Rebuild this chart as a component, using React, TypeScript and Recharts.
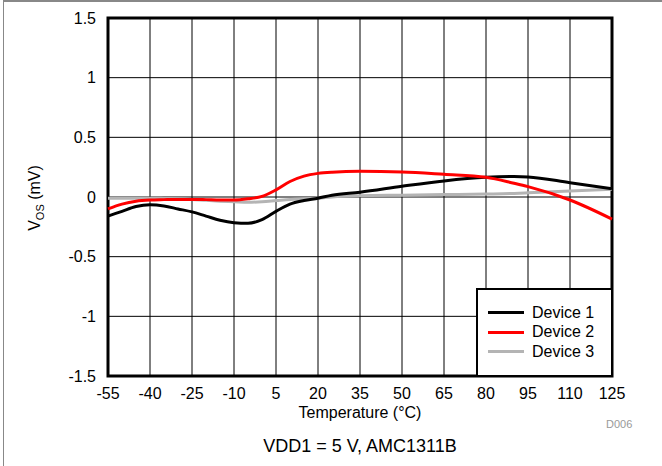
import {
  LineChart,
  Line,
  XAxis,
  YAxis,
  CartesianGrid,
  ReferenceArea,
} from "recharts";

const temps = [-55, -50, -45, -40, -35, -30, -25, -20, -15, -10, -5, 0, 5, 10, 15, 20, 25, 35, 50, 65, 80, 90, 95, 110, 125];
const device1 = [-0.16, -0.12, -0.08, -0.065, -0.075, -0.1, -0.125, -0.16, -0.195, -0.215, -0.22, -0.19, -0.12, -0.06, -0.03, -0.01, 0.015, 0.04, 0.09, 0.135, 0.165, 0.172, 0.168, 0.12, 0.07];
const device2 = [-0.1, -0.06, -0.035, -0.025, -0.022, -0.02, -0.02, -0.022, -0.025, -0.025, -0.015, 0.005, 0.06, 0.13, 0.175, 0.198, 0.208, 0.215, 0.21, 0.19, 0.165, 0.115, 0.087, -0.025, -0.185];
const device3 = [-0.01, -0.01, -0.01, -0.01, -0.012, -0.015, -0.02, -0.028, -0.035, -0.04, -0.045, -0.04, -0.03, -0.02, -0.015, -0.01, 0, 0.01, 0.015, 0.02, 0.025, 0.03, 0.035, 0.05, 0.065];

const xTicks = [-55, -40, -25, -10, 5, 20, 35, 50, 65, 80, 95, 110, 125];
const yTicks = [-1.5, -1, -0.5, 0, 0.5, 1, 1.5];

const seriesNames = ["Device 1", "Device 2", "Device 3"];
const seriesColors = ["#000000", "#ff0000", "#b4b4b4"];

const data = temps.map((t, i) => ({
  t,
  d1: device1[i],
  d2: device2[i],
  d3: device3[i],
}));

const font = "'Liberation Sans', Arial, sans-serif";

function LegendBox() {
  return (
    <div
      style={{
        position: "absolute",
        left: 476,
        top: 288,
        background: "#fff",
        border: "2px solid #000",
        boxSizing: "border-box",
        width: 137,
        height: 89,
        padding: "13px 0 0 10px",
        fontFamily: font,
        fontSize: 16,
      }}
    >
      {seriesNames.map((n, i) => (
        <div key={n} style={{ display: "flex", alignItems: "center", height: 19.5 }}>
          <div style={{ width: 36, height: 3, background: seriesColors[i], marginRight: 8 }} />
          <span>{n}</span>
        </div>
      ))}
    </div>
  );
}

function YLabel() {
  return (
    <text
      x={40}
      y={198}
      transform="rotate(-90 40 198)"
      textAnchor="middle"
      fontFamily={font}
      fontSize={16}
      fill="#000"
    >
      V<tspan fontSize={11} dy={4}>OS</tspan>
      <tspan dy={-4}> (mV)</tspan>
    </text>
  );
}

export default function App() {
  return (
    <div style={{ position: "absolute", left: 0, top: 0, width: 662, height: 466, background: "#fff", overflow: "hidden" }}>
      <div
        style={{
          position: "absolute",
          left: 3,
          top: 0,
          width: 680,
          height: 480,
          borderLeft: "1px solid #888",
          borderTop: "2px solid #888",
        }}
      />
      <LineChart
        width={662}
        height={466}
        data={data}
        margin={{ top: 18, right: 50, bottom: 60, left: 48 }}
        style={{ position: "absolute", left: 0, top: 0 }}
      >
        <CartesianGrid stroke="#000" strokeWidth={1} horizontalValues={yTicks} verticalValues={xTicks} />
        <XAxis
          dataKey="t"
          type="number"
          domain={[-55, 125]}
          ticks={xTicks}
          interval={0}
          height={30}
          axisLine={false}
          tickLine={false}
          tickMargin={6}
          tick={{ fill: "#000", fontSize: 16, fontFamily: font }}
        />
        <YAxis
          type="number"
          domain={[-1.5, 1.5]}
          ticks={yTicks}
          interval={0}
          width={60}
          axisLine={false}
          tickLine={false}
          tickMargin={6}
          tick={{ fill: "#000", fontSize: 16, fontFamily: font }}
          label={<YLabel />}
        />
        <Line type="monotone" dataKey="d3" stroke={seriesColors[2]} strokeWidth={3} dot={false} isAnimationActive={false} name={seriesNames[2]} />
        <Line type="monotone" dataKey="d1" stroke={seriesColors[0]} strokeWidth={3} dot={false} isAnimationActive={false} name={seriesNames[0]} />
        <Line type="monotone" dataKey="d2" stroke={seriesColors[1]} strokeWidth={3} dot={false} isAnimationActive={false} name={seriesNames[1]} />
        <ReferenceArea x1={-55} x2={125} y1={-1.5} y2={1.5} fill="none" stroke="#000" strokeWidth={3} />
      </LineChart>
      <LegendBox />
      <div style={{ position: "absolute", left: 0, width: 720, top: 404, textAlign: "center", fontFamily: font, fontSize: 16 }}>
        Temperature (°C)
      </div>
      <div style={{ position: "absolute", left: 606, top: 418, fontFamily: font, fontSize: 11, color: "#999" }}>D006</div>
      <div style={{ position: "absolute", left: 0, width: 720, top: 436, textAlign: "center", fontFamily: font, fontSize: 18 }}>
        VDD1 = 5 V, AMC1311B
      </div>
    </div>
  );
}
